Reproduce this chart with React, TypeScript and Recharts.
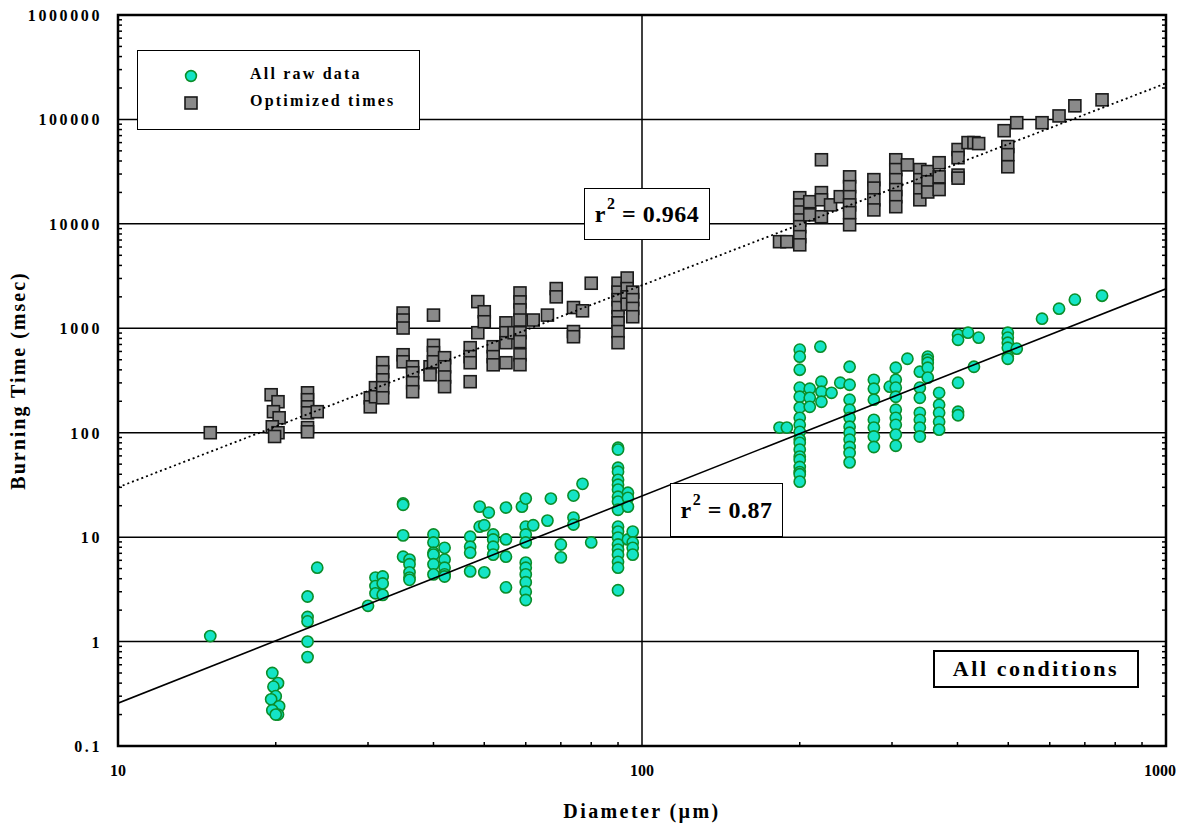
import React from 'react';
import { ScatterChart, Scatter, XAxis, YAxis, ReferenceLine, ReferenceArea, Legend, Label } from 'recharts';

// ---------- data (diameter µm, burning time msec) ----------
const rawData: [number, number][] = [
  [15, 1.13],
  [19.7, 0.5], [20.2, 0.4], [19.8, 0.37], [20, 0.3], [19.6, 0.28], [20.3, 0.24], [19.7, 0.22], [20.2, 0.2], [20, 0.2],
  [23, 2.7], [23, 1.72], [23, 1.56], [23, 1.0], [23, 0.71],
  [24, 5.1], [30, 2.2],
  [31, 4.1], [31, 3.4], [31, 2.9], [32, 4.2], [32, 3.6], [32, 2.8],
  [35, 21], [35, 20.4], [35, 10.4], [35, 6.5],
  [36, 6.1], [36, 5.5], [36, 4.6], [36, 4.1], [36, 3.9],
  [40, 10.6], [40, 8.9], [40, 7.1], [40, 6.8], [40, 5.5], [40, 4.4],
  [42, 7.9], [42, 6.1], [42, 5.1], [42, 4.4], [42, 4.2],
  [47, 10.1], [47, 8.1], [47, 7.1], [47, 4.7],
  [49, 19.6], [49, 12.6], [50, 13.0], [50, 4.6], [51, 17.2],
  [52, 10.6], [52, 9.5], [52, 8.1], [52, 6.8],
  [55, 19.2], [55, 9.5], [55, 6.5], [55, 3.3], [59, 19.6],
  [60, 23.4], [60, 12.6], [60, 10.6], [60, 8.9], [60, 5.7], [60, 5.1], [60, 4.4], [60, 3.7], [60, 3.0], [60, 2.5],
  [62, 13.0], [66, 14.4], [67, 23.4], [70, 8.5], [70, 6.4],
  [74, 25.0], [74, 15.4], [74, 13.2], [77, 32.4], [80, 8.9],
  [90, 71.8], [90, 69], [90, 46.2], [90, 42.3], [90, 35.4], [90, 31.8], [90, 28.5], [90, 24.4], [90, 21.9], [90, 18.3],
  [90, 12.6], [90, 11.3], [90, 9.9], [90, 8.5], [90, 7.6], [90, 6.8], [90, 5.8], [90, 5.1], [90, 3.1],
  [94, 26.6], [94, 23.8], [94, 19.6], [94, 9.5],
  [96, 11.3], [96, 8.9], [96, 7.9], [96, 6.8],
  [183, 112], [189, 112],
  [200, 624], [200, 535], [200, 401], [200, 270], [200, 221], [200, 174], [200, 139], [200, 119], [200, 102],
  [200, 86], [200, 80], [200, 69], [200, 59], [200, 55], [200, 47], [200, 42], [200, 40], [200, 34],
  [209, 264], [209, 216], [209, 177], [219, 666], [220, 308], [220, 247], [220, 198], [230, 241], [239, 301],
  [249, 428], [249, 288], [249, 207], [249, 166], [249, 139], [249, 114], [249, 100], [249, 86], [249, 73], [249, 64], [249, 52],
  [277, 321], [277, 264], [277, 207], [277, 133], [277, 112], [277, 92], [277, 73], [297, 276],
  [305, 419], [305, 321], [305, 270], [305, 221], [305, 166], [305, 139], [305, 119], [305, 96], [305, 75],
  [321, 511],
  [339, 384], [339, 270], [339, 216], [339, 155], [339, 133], [339, 112], [339, 92],
  [351, 535], [351, 500], [351, 468], [351, 419], [351, 337],
  [369, 241], [369, 185], [369, 155], [369, 127], [369, 107],
  [401, 866], [401, 776], [401, 301], [401, 159], [401, 147],
  [419, 907], [430, 428], [439, 813],
  [499, 907], [499, 813], [499, 728], [499, 652], [499, 535], [499, 511],
  [519, 638], [580, 1236], [625, 1540], [670, 1880], [755, 2050],
];

const optData: [number, number][] = [
  [15, 100],
  [19.6, 231], [20.2, 198], [19.8, 159], [20.3, 139], [19.7, 114], [20.2, 100], [19.9, 92],
  [23, 241], [23, 207], [23, 177], [23, 155], [23, 112], [23, 102], [24, 159],
  [30.3, 216], [30.3, 177], [31, 270], [31, 221],
  [32, 468], [32, 384], [32, 321], [32, 270], [32, 216],
  [35, 1400], [35, 1200], [35, 1006], [35, 558], [35, 478],
  [36.5, 428], [36.5, 375], [36.5, 301], [36.5, 247],
  [39.4, 428], [39.4, 359], [40, 1337], [40, 687], [40, 584], [40, 478],
  [42, 523], [42, 428], [42, 342], [42, 276],
  [47, 652], [47, 535], [47, 468], [47, 308],
  [48.6, 1800], [48.6, 907], [50, 1440], [50, 1155],
  [52, 666], [52, 535], [52, 447],
  [55, 1128], [55, 907], [55, 728], [55, 468], [57, 907],
  [58.5, 2180], [58.5, 1790], [58.5, 1500], [58.5, 1200], [58.5, 907], [58.5, 745], [58.5, 558], [58.5, 448],
  [62, 1200], [66, 1337], [68.6, 2400], [68.6, 2000],
  [74, 1580], [74, 930], [74, 830], [77, 1470], [80, 2700],
  [90, 2700], [90, 2220], [90, 1880], [90, 1580], [90, 1290], [90, 1128], [90, 930], [90, 728],
  [93.7, 3030], [93.7, 2400], [93.7, 2000], [93.7, 1700],
  [96, 2220], [96, 1880], [96, 1550], [96, 1290],
  [183, 6750], [189, 6750],
  [200, 17800], [200, 15200], [200, 13000], [200, 10900], [200, 9400], [200, 7540], [200, 6300],
  [209, 16300], [209, 12200],
  [220, 41100], [220, 19900], [220, 17000], [220, 11700], [229, 15200], [239, 18200],
  [249, 28200], [249, 22700], [249, 18200], [249, 15200], [249, 12800], [249, 9800],
  [277, 26500], [277, 22000], [277, 17000], [277, 13600],
  [305, 41100], [305, 33100], [305, 26500], [305, 21300], [305, 18200], [305, 14600],
  [321, 36700],
  [339, 33100], [339, 26500], [339, 21300], [339, 17000],
  [351, 31700], [351, 25300], [351, 20200],
  [369, 38500], [369, 28200], [369, 21300],
  [401, 51500], [401, 43000], [401, 29300], [401, 27400],
  [419, 60000], [430, 60000], [439, 58700],
  [491, 78000], [499, 55000], [499, 46000], [499, 35200],
  [519, 93000], [580, 93000], [625, 108000], [670, 135000], [755, 154000],
];

// fit lines (end points read at the plot edges)
const fitRaw: [number, number][] = [[10, 0.257], [1000, 2390]];
const fitOpt: [number, number][] = [[10, 30], [1000, 222000]];

// axis ticks
const xMajor = [10, 100, 1000];
const xMinorMult = [2, 3, 4, 5, 6, 7, 8, 9];
const yMajor = [0.1, 1, 10, 100, 1000, 10000, 100000, 1000000];
const yMinorMult = [2, 3, 4, 5, 6, 7, 8, 9];

const xTicks = [...xMajor, ...xMajor.slice(0, -1).flatMap((d) => xMinorMult.map((m) => m * d))];
const yTicks = [...yMajor, ...yMajor.slice(0, -1).flatMap((d) => yMinorMult.map((m) => m * d))];

const toObj = (arr: [number, number][]) => arr.map(([d, t]) => ({ d, t }));

const FONT = '"Liberation Serif", "Times New Roman", serif';
const GREEN_FILL = '#14E4C6';
const GREEN_STROKE = '#0B8E2A';
const SQ_FILL = '#8A8A8A';
const SQ_STROKE = '#1A1A1A';

const CircleShape = (p: any) => (
  <circle cx={p.cx} cy={p.cy} r={5.6} fill={GREEN_FILL} stroke={GREEN_STROKE} strokeWidth={1.6} />
);
const SquareShape = (p: any) => (
  <rect x={p.cx - 6} y={p.cy - 6} width={12} height={12} fill={SQ_FILL} stroke={SQ_STROKE} strokeWidth={1.6} />
);
const NoShape = () => <g />;

const LeftYTick = (p: any) => {
  const v = p.payload.value;
  const major = yMajor.includes(v);
  if (major) {
    return (
      <text x={p.x - 16} y={p.y + 6} textAnchor="end" fontFamily={FONT} fontWeight="bold" fontSize={16} letterSpacing={2.6} fill="#000">
        {String(v)}
      </text>
    );
  }
  return <line x1={p.x} x2={p.x + 4} y1={p.y} y2={p.y} stroke="#000" strokeWidth={1.5} />;
};

const RightYTick = (p: any) => {
  const v = p.payload.value;
  if (yMajor.includes(v)) return <g />;
  return <line x1={p.x - 4} x2={p.x} y1={p.y} y2={p.y} stroke="#000" strokeWidth={1.5} />;
};

const XTick = (p: any) => {
  const v = p.payload.value;
  if (xMajor.includes(v)) {
    const isLast = v === xMajor[xMajor.length - 1];
    return (
      <text x={isLast ? p.x - 6 : p.x} y={p.y + 30} textAnchor="middle" fontFamily={FONT} fontWeight="bold" fontSize={16} fill="#000">
        {String(v)}
      </text>
    );
  }
  return <line x1={p.x} x2={p.x} y1={p.y} y2={p.y - 4} stroke="#000" strokeWidth={1.5} />;
};

const LegendBox = () => (
  <div
    style={{
      width: 283,
      height: 80,
      border: '1.5px solid #000',
      background: '#fff',
      boxSizing: 'border-box',
      fontFamily: FONT,
      fontWeight: 'bold',
      fontSize: 16,
      letterSpacing: 2.2,
      position: 'relative',
    }}
  >
    <svg width={14} height={14} style={{ position: 'absolute', left: 46, top: 18 }}>
      <circle cx={7} cy={7} r={5.4} fill={GREEN_FILL} stroke={GREEN_STROKE} strokeWidth={1.6} />
    </svg>
    <div style={{ position: 'absolute', left: 112, top: 14 }}>All raw data</div>
    <svg width={14} height={14} style={{ position: 'absolute', left: 46, top: 45 }}>
      <rect x={1} y={1} width={12} height={12} fill={SQ_FILL} stroke={SQ_STROKE} strokeWidth={1.6} />
    </svg>
    <div style={{ position: 'absolute', left: 112, top: 41 }}>Optimized times</div>
  </div>
);

const boxStyle: React.CSSProperties = {
  position: 'absolute',
  border: '1.5px solid #000',
  background: '#fff',
  boxSizing: 'border-box',
  fontFamily: FONT,
  fontWeight: 'bold',
  display: 'flex',
  alignItems: 'center',
  justifyContent: 'center',
  color: '#000',
};

const supStyle: React.CSSProperties = { fontSize: 16, verticalAlign: 'top', position: 'relative', top: -6, marginLeft: 1 };

export default function App() {
  return (
    <div style={{ position: 'relative', width: 1180, height: 817 }}>
      <ScatterChart width={1180} height={817} margin={{ top: 7, right: 0, bottom: 0, left: 0 }}>
        <XAxis
          type="number"
          dataKey="d"
          scale="log"
          domain={[10, 1000]}
          ticks={xTicks}
          interval={0}
          allowDataOverflow
          axisLine={false}
          tickLine={false}
          tickSize={0}
          tickMargin={0}
          height={79}
          tick={<XTick />}
        >
          <Label
            value="Diameter (µm)"
            position="insideBottom"
            offset={7}
            style={{ fontFamily: FONT, fontWeight: 'bold', fontSize: 20, fill: '#000', letterSpacing: 2.4 }}
          />
        </XAxis>
        <YAxis
          type="number"
          dataKey="t"
          scale="log"
          domain={[0.1, 1000000]}
          ticks={yTicks}
          interval={0}
          allowDataOverflow
          axisLine={false}
          tickLine={false}
          tickSize={0}
          tickMargin={0}
          width={110}
          tick={<LeftYTick />}
        >
          <Label
            value="Burning Time (msec)"
            angle={-90}
            position="insideLeft"
            offset={10}
            style={{ textAnchor: 'middle', fontFamily: FONT, fontWeight: 'bold', fontSize: 20, fill: '#000', letterSpacing: 2 }}
          />
        </YAxis>
        <YAxis
          yAxisId="r"
          orientation="right"
          type="number"
          dataKey="t"
          scale="log"
          domain={[0.1, 1000000]}
          ticks={yTicks}
          interval={0}
          allowDataOverflow
          axisLine={false}
          tickLine={false}
          tickSize={0}
          tickMargin={0}
          width={22}
          tick={<RightYTick />}
        />
        {yMajor.slice(1, -1).map((v) => (
          <ReferenceLine key={v} y={v} stroke="#000" strokeWidth={1.5} />
        ))}
        <ReferenceLine x={100} stroke="#000" strokeWidth={1.5} />
        <Scatter name="All raw data" data={toObj(rawData)} shape={<CircleShape />} isAnimationActive={false} />
        <Scatter name="Optimized times" data={toObj(optData)} shape={<SquareShape />} isAnimationActive={false} />
        <Scatter
          data={toObj(fitRaw)}
          shape={<NoShape />}
          line={{ stroke: '#000', strokeWidth: 1.6 }}
          legendType="none"
          isAnimationActive={false}
        />
        <Scatter
          data={toObj(fitOpt)}
          shape={<NoShape />}
          line={{ stroke: '#000', strokeWidth: 1.8, strokeDasharray: '2 3' }}
          legendType="none"
          isAnimationActive={false}
        />
        <ReferenceArea x1={10} x2={1000} y1={0.1} y2={1000000} fill="none" stroke="#000" strokeWidth={2.5} />
        <Legend
          layout="vertical"
          align="center"
          verticalAlign="middle"
          content={<LegendBox />}
          wrapperStyle={{ left: 129, top: 42, width: 283, height: 80 }}
        />
      </ScatterChart>
      <div style={{ ...boxStyle, left: 576, top: 180, width: 126, height: 52, fontSize: 24, letterSpacing: 0.5 }}>
        <span>
          r<sup style={supStyle}>2</sup> = 0.964
        </span>
      </div>
      <div style={{ ...boxStyle, left: 662, top: 475, width: 113, height: 54, fontSize: 24, letterSpacing: 0.5 }}>
        <span>
          r<sup style={supStyle}>2</sup> = 0.87
        </span>
      </div>
      <div style={{ ...boxStyle, left: 925, top: 642, width: 206, height: 38, fontSize: 22, letterSpacing: 2.6, border: '2px solid #000' }}>
        All conditions
      </div>
    </div>
  );
}
